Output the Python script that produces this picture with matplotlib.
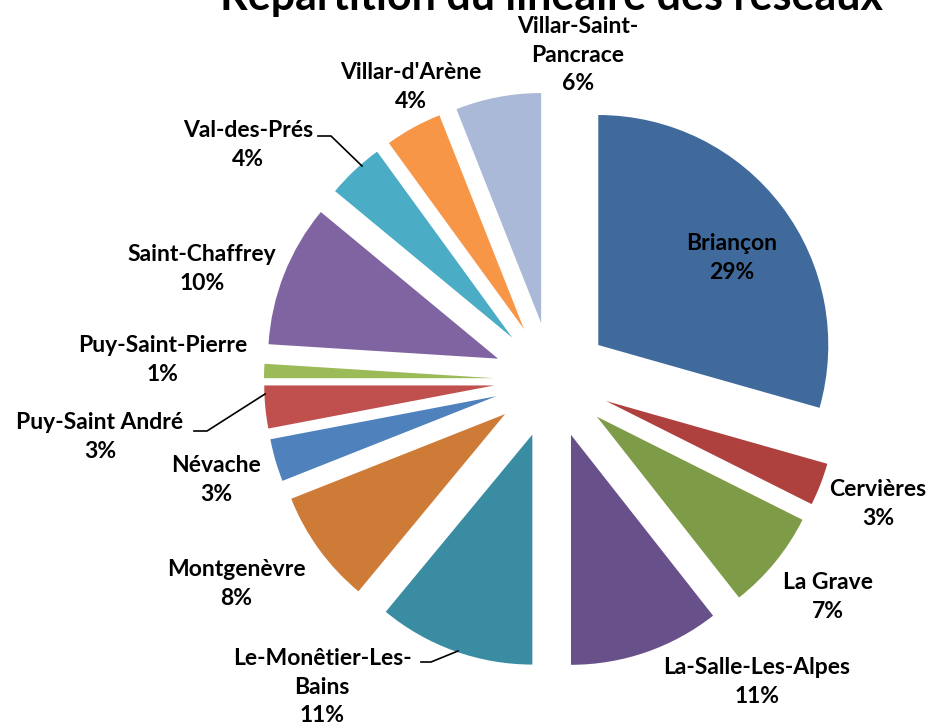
import matplotlib
matplotlib.use("Agg")
import matplotlib.pyplot as plt

plt.rcParams['font.family'] = ['Lato', 'DejaVu Sans']

communes = ["Briançon", "Cervières", "La Grave", "La-Salle-Les-Alpes",
            "Le-Monêtier-Les-Bains", "Montgenèvre", "Névache", "Puy-Saint André",
            "Puy-Saint-Pierre", "Saint-Chaffrey", "Val-des-Prés", "Villar-d'Arène",
            "Villar-Saint-Pancrace"]
values = [29.4, 3, 7, 10.6, 11, 8, 3, 3, 1, 10, 4, 4, 6]
pct_labels = ["29%", "3%", "7%", "11%", "11%", "8%", "3%", "3%", "1%", "10%", "4%", "4%", "6%"]
label_text = ["Briançon", "Cervières", "La Grave", "La-Salle-Les-Alpes",
              "Le-Monêtier-Les-\nBains", "Montgenèvre", "Névache", "Puy-Saint André",
              "Puy-Saint-Pierre", "Saint-Chaffrey", "Val-des-Prés", "Villar-d'Arène",
              "Villar-Saint-\nPancrace"]
colors = ["#406A9C", "#AE413E", "#7E9B48", "#68508A", "#3A8CA2", "#CE7B37",
          "#4F81BD", "#C0504D", "#9BBB59", "#8064A2", "#4BACC6", "#F79646", "#AAB9D8"]
title = "Répartition du linéaire des réseaux"

W, H = 931, 728
fig = plt.figure(figsize=(W / 100, H / 100), dpi=100)
ax = fig.add_axes([0, 0, 1, 1])

R = 230
cx, cy = 552, H - 380
ax.pie(values, colors=colors, startangle=90, counterclock=False,
       explode=[58] * len(values), radius=R, center=(cx, cy),
       wedgeprops=dict(linewidth=0))
ax.set_xlim(0, W)
ax.set_ylim(0, H)
ax.set_aspect('equal')
ax.axis('off')

# label positions (pixel coords, y down) - layout only
label_pos = [(732, 258), (878, 504), (828, 597), (757, 682), (322, 687),
             (236, 584), (216, 480), (100, 437), (163, 360), (202, 269),
             (248, 145), (411, 87), (578, 55)]
for txt, pct, (x, y) in zip(label_text, pct_labels, label_pos):
    ax.text(x, H - y, txt + "\n" + pct, ha='center', va='center',
            fontsize=16.5, fontweight='bold', linespacing=1.45, color='black')

# leader lines
leaders = [
    [(421, 662), (431, 662), (458, 651)],
    [(194, 431), (207, 431), (265, 394)],
    [(318, 136), (331, 136), (362, 166)],
]
for pts in leaders:
    xs = [p[0] for p in pts]
    ys = [H - p[1] for p in pts]
    ax.plot(xs, ys, color='black', lw=1.2)

ax.text(552, H - 10, title, ha='center', va='baseline', fontsize=31,
        fontweight='bold', color='black')

fig.savefig("out.png", dpi=100)
